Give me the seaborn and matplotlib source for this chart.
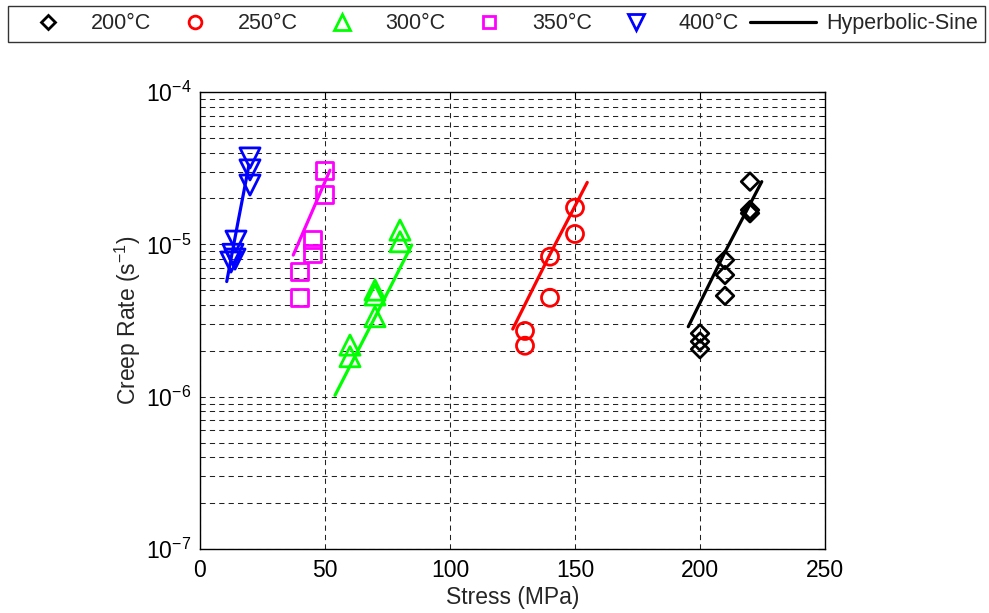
import numpy as np
import pandas as pd
import matplotlib
matplotlib.use("Agg")
import matplotlib.pyplot as plt
from matplotlib.lines import Line2D
from matplotlib.ticker import LogLocator, LogFormatterMathtext, MultipleLocator, NullFormatter
import seaborn as sns

# ---------------- data ----------------
temps = ["200°C", "250°C", "300°C", "350°C", "400°C"]

stress_200 = [220, 220, 220, 210, 210, 210, 200, 200, 200]
rate_200 = [2.58e-5, 1.68e-5, 1.60e-5, 7.89e-6, 6.29e-6, 4.59e-6, 2.60e-6, 2.30e-6, 2.05e-6]

stress_250 = [150, 150, 140, 140, 130, 130]
rate_250 = [1.74e-5, 1.17e-5, 8.3e-6, 4.46e-6, 2.70e-6, 2.16e-6]

stress_300 = [80, 80, 70, 70, 70, 60, 60]
rate_300 = [1.24e-5, 1.04e-5, 5.01e-6, 4.65e-6, 3.35e-6, 2.18e-6, 1.83e-6]

stress_350 = [50, 50, 45, 45, 40, 40]
rate_350 = [3.04e-5, 2.11e-5, 1.08e-5, 8.72e-6, 6.61e-6, 4.48e-6]

stress_400 = [20, 20, 20, 14.4, 13.2, 12.4, 14.0]
rate_400 = [3.69e-5, 3.08e-5, 2.45e-5, 1.05e-5, 8.6e-6, 7.65e-6, 8.0e-6]

# hyperbolic-sine fit curves
fit_x_200 = [195.3, 210, 224.7]
fit_y_200 = [2.88e-6, 8.9e-6, 2.58e-5]
fit_x_250 = [125.1, 140, 154.9]
fit_y_250 = [2.78e-6, 8.6e-6, 2.55e-5]
fit_x_300 = [54.0, 69.5, 84.7]
fit_y_300 = [1.02e-6, 3.2e-6, 9.9e-6]
fit_x_350 = [37.3, 44.7, 52.0]
fit_y_350 = [8.5e-6, 1.62e-5, 3.07e-5]
fit_x_400 = [10.7, 15.2, 19.6]
fit_y_400 = [5.7e-6, 1.4e-5, 3.32e-5]

legend_fit = "Hyperbolic-Sine"

colors = ["#000000", "#ff0000", "#00ff00", "#ff00ff", "#0000ff"]
markers = ["D", "o", "^", "s", "v"]
msizes = [80, 150, 210, 150, 210]

# ---------------- build tables ----------------
pts = pd.DataFrame({
    "stress": stress_200 + stress_250 + stress_300 + stress_350 + stress_400,
    "rate": rate_200 + rate_250 + rate_300 + rate_350 + rate_400,
    "temp": [temps[0]] * len(stress_200) + [temps[1]] * len(stress_250)
    + [temps[2]] * len(stress_300) + [temps[3]] * len(stress_350)
    + [temps[4]] * len(stress_400),
})
fits = pd.DataFrame({
    "stress": fit_x_200 + fit_x_250 + fit_x_300 + fit_x_350 + fit_x_400,
    "rate": fit_y_200 + fit_y_250 + fit_y_300 + fit_y_350 + fit_y_400,
    "temp": [temps[0]] * len(fit_x_200) + [temps[1]] * len(fit_x_250)
    + [temps[2]] * len(fit_x_300) + [temps[3]] * len(fit_x_350)
    + [temps[4]] * len(fit_x_400),
})

# ---------------- style ----------------
sns.set_style("white")
plt.rcParams["font.family"] = ["Liberation Sans", "DejaVu Sans"]
plt.rcParams["mathtext.fontset"] = "custom"
plt.rcParams["mathtext.rm"] = "Liberation Sans"
plt.rcParams["mathtext.it"] = "Liberation Sans:italic"
plt.rcParams["mathtext.bf"] = "Liberation Sans:bold"

FS = 16.5

fig = plt.figure(figsize=(9.89, 6.13), dpi=100)
ax = fig.add_axes([0.2022, 0.1044, 0.632, 0.7455])

palette = dict(zip(temps, colors))
mk = dict(zip(temps, markers))
ms = dict(zip(temps, msizes))

sns.lineplot(data=fits, x="stress", y="rate", hue="temp", palette=palette,
             estimator=None, sort=False, units="temp", lw=2.3, legend=False, ax=ax)

for t in temps:
    sub = pts[pts["temp"] == t]
    sns.scatterplot(data=sub, x="stress", y="rate", marker=mk[t],
                    facecolors="none", edgecolor=palette[t], color=palette[t],
                    s=ms[t], linewidth=2.0, legend=False, ax=ax, zorder=3)

ax.set_yscale("log")
ax.set_xlim(0, 250)
ax.set_ylim(1e-7, 1e-4)
ax.xaxis.set_major_locator(MultipleLocator(50))
ax.yaxis.set_major_locator(LogLocator(base=10, numticks=10))
ax.yaxis.set_minor_locator(LogLocator(base=10, subs=np.arange(2, 10), numticks=20))
ax.yaxis.set_major_formatter(LogFormatterMathtext())
ax.yaxis.set_minor_formatter(NullFormatter())

grid_kw = dict(color="#222222", linestyle=(0, (5, 4)), linewidth=0.75)
ax.grid(True, which="major", axis="both", **grid_kw)
ax.grid(True, which="minor", axis="y", **grid_kw)
ax.set_axisbelow(True)

ax.tick_params(which="both", direction="in", top=True, right=True,
               labelsize=FS, colors="black")
ax.tick_params(which="major", length=5, width=0.8)
ax.tick_params(which="minor", length=3, width=0.6)
ax.tick_params(axis="x", pad=7)
ax.tick_params(axis="y", pad=6)
for sp in ax.spines.values():
    sp.set_visible(True)
    sp.set_color("black")
    sp.set_linewidth(1.0)

ax.set_xlabel("Stress (MPa)", fontsize=FS, labelpad=3)
ax.set_ylabel("Creep Rate (s$^{-1}$)", fontsize=FS, labelpad=2)

# ---------------- legend ----------------
handles = [Line2D([], [], linestyle="none", marker=m, markersize=0.75 * np.sqrt(s),
                  markerfacecolor="none", markeredgecolor=c, markeredgewidth=2.0)
           for m, c, s in zip(markers, colors, msizes)]
handles.append(Line2D([], [], color="black", lw=2.3))
labels = temps + [legend_fit]
leg = fig.legend(handles, labels, loc="lower left", ncol=6, mode="expand",
                 bbox_to_anchor=(0.008, 0.932, 0.988, 0.063),
                 frameon=True, fancybox=False, edgecolor="black",
                 fontsize=15.5, handlelength=3.05, handletextpad=0.45,
                 borderaxespad=0.0, borderpad=0.35)
leg.get_frame().set_linewidth(1.0)

fig.savefig("out.png", dpi=100)
